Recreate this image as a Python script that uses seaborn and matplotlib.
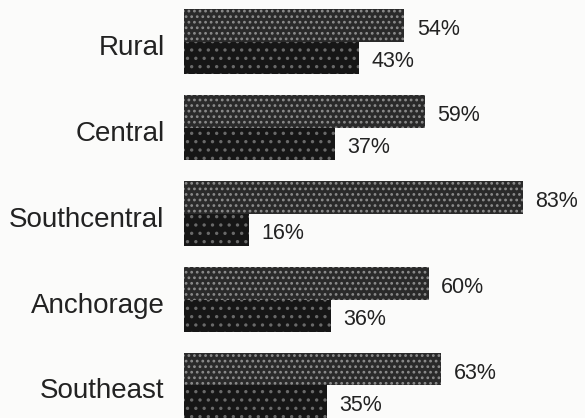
import pandas as pd
import matplotlib
matplotlib.use("Agg")
import matplotlib.pyplot as plt
import matplotlib.transforms as mtransforms
import seaborn as sns

# --- datos ---
regions = ["Rural", "Central", "Southcentral", "Anchorage", "Southeast"]
upper_pct = [54, 59, 83, 60, 63]
lower_pct = [43, 37, 16, 36, 35]
series = ["upper", "lower"]

df = pd.DataFrame({
    "region": regions * 2,
    "serie": [series[0]] * len(regions) + [series[1]] * len(regions),
    "pct": upper_pct + lower_pct,
})

plt.rcParams["font.family"] = ["Liberation Sans", "DejaVu Sans"]
plt.rcParams["hatch.linewidth"] = 1.2

fig = plt.figure(figsize=(5.85, 4.18), dpi=100)
fig.patch.set_facecolor("#fbfbfa")
ax = fig.add_axes([184 / 585, 0, 401 / 585, 1])
ax.set_facecolor("#fbfbfa")

sns.barplot(data=df, x="pct", y="region", hue="serie", order=regions,
            hue_order=series, palette=["#2a2a2a", "#161616"], width=0.755,
            saturation=1, legend=False, ax=ax)

# textura moteada parecida al escaneo
textures = [("...", "#8c8c8c"), ("..", "#6a6a6a")]
for cont, (hatch, col) in zip(ax.containers, textures):
    for bar in cont:
        bar.set_hatch(hatch)
        bar.set_edgecolor(col)
        bar.set_linewidth(0)

# etiquetas de porcentaje
for cont in ax.containers:
    for bar, val in zip(cont, cont.datavalues):
        ax.annotate(f"{val:.0f}%", (bar.get_width(), bar.get_y() + bar.get_height() / 2),
                    xytext=(9, -3), textcoords="offset points",
                    ha="left", va="center", fontsize=15.5, color="#222222")

ax.set_xlim(0, 401 / 4.08)
ax.set_ylim(4.378, -0.483)
ax.set_xlabel("")
ax.set_ylabel("")
ax.set_xticks([])
ax.tick_params(axis="y", length=0, pad=14, labelsize=20, labelcolor="#222222")
for s in ax.spines.values():
    s.set_visible(False)

# bajar un poco las etiquetas de región
shift = mtransforms.ScaledTranslation(0, -3 / 100, fig.dpi_scale_trans)
for lab in ax.get_yticklabels():
    lab.set_transform(lab.get_transform() + shift)

plt.savefig("out.png", dpi=100, facecolor=fig.get_facecolor())
